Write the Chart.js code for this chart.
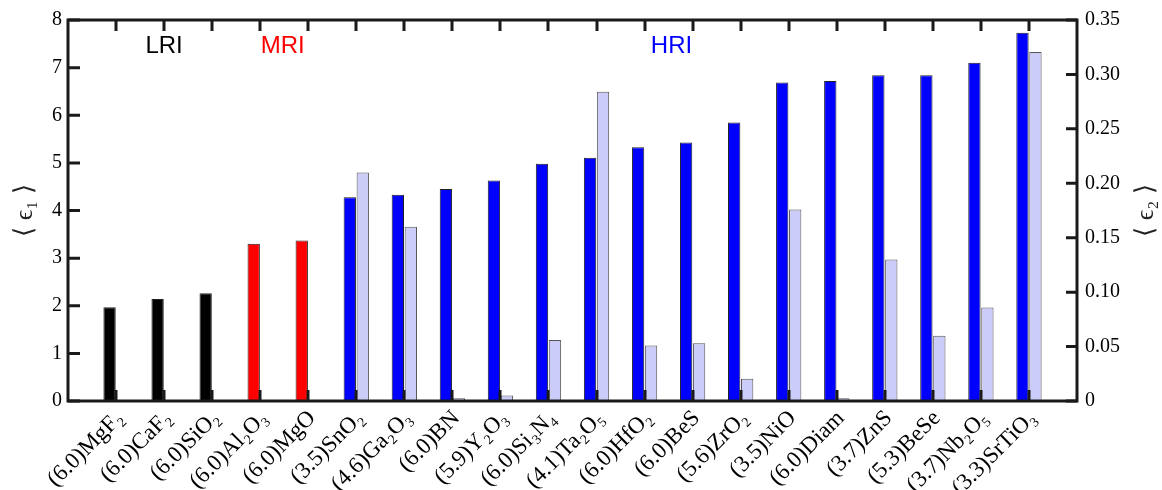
<!DOCTYPE html>
<html>
<head>
<title>Average dielectric function</title>
<script src="https://cdn.jsdelivr.net/npm/chart.js"></script>
<style>
  body { margin: 0; background: #fff; }
  #wrap { width: 1162px; height: 490px; }
</style>
</head>
<body>
<div id="wrap"><canvas id="chart"></canvas></div>
<script>
// (gap) material, as labelled on the x axis
const materials = ['(6.0)MgF₂', '(6.0)CaF₂', '(6.0)SiO₂', '(6.0)Al₂O₃', '(6.0)MgO',
  '(3.5)SnO₂', '(4.6)Ga₂O₃', '(6.0)BN', '(5.9)Y₂O₃', '(6.0)Si₃N₄', '(4.1)Ta₂O₅',
  '(6.0)HfO₂', '(6.0)BeS', '(5.6)ZrO₂', '(3.5)NiO', '(6.0)Diam', '(3.7)ZnS',
  '(5.3)BeSe', '(3.7)Nb₂O₅', '(3.3)SrTiO₃'];
const groups = ['LRI', 'LRI', 'LRI', 'MRI', 'MRI', 'HRI', 'HRI', 'HRI', 'HRI', 'HRI',
  'HRI', 'HRI', 'HRI', 'HRI', 'HRI', 'HRI', 'HRI', 'HRI', 'HRI', 'HRI'];
// <eps1> (left axis)
const eps1 = [1.97, 2.14, 2.26, 3.30, 3.37, 4.28, 4.33, 4.45, 4.63, 4.98, 5.11,
  5.33, 5.43, 5.85, 6.69, 6.72, 6.84, 6.84, 7.10, 7.73];
// <eps2> (right axis), none drawn for the low/medium index group
const eps2 = [null, null, null, null, null, 0.210, 0.160, 0.0025, 0.005, 0.056, 0.284,
  0.051, 0.053, 0.0205, 0.176, 0.0025, 0.130, 0.060, 0.086, 0.3205];
const leftTicks = ['0', '1', '2', '3', '4', '5', '6', '7', '8'];
const rightTicks = ['0', '0.05', '0.10', '0.15', '0.20', '0.25', '0.30', '0.35'];

const groupColor = { LRI: '#000000', MRI: '#ff0000', HRI: '#0000ff' };
const groupText = [
  { text: 'LRI', at: 2.0 },
  { text: 'MRI', at: 4.47 },
  { text: 'HRI', at: 12.56 }
];

const labels = ['', ...materials, ''];
const serif = 'Liberation Serif';

const framePlugin = {
  id: 'frame',
  afterDatasetsDraw(chart) {
    const { ctx, chartArea: a, scales } = chart;
    const x = scales.x, y1 = scales.y1, y2 = scales.y2;
    ctx.save();
    ctx.strokeStyle = '#1a1a1a';
    ctx.lineWidth = 3;
    ctx.beginPath();
    for (let i = 1; i <= materials.length; i++) {
      const px = Math.round(x.getPixelForValue(i));
      ctx.moveTo(px, a.bottom); ctx.lineTo(px, a.bottom - 11);
      ctx.moveTo(px, a.top); ctx.lineTo(px, a.top + 11);
    }
    leftTicks.forEach(t => {
      const py = y1.getPixelForValue(Number(t));
      ctx.moveTo(a.left, py); ctx.lineTo(a.left + 12, py);
    });
    rightTicks.forEach(t => {
      const py = y2.getPixelForValue(Number(t));
      ctx.moveTo(a.right, py); ctx.lineTo(a.right - 11, py);
    });
    ctx.stroke();
    ctx.strokeRect(a.left, a.top, a.right - a.left, a.bottom - a.top);

    // group names
    ctx.font = '24px "Liberation Sans"';
    ctx.textAlign = 'center';
    ctx.textBaseline = 'middle';
    groupText.forEach(g => {
      ctx.fillStyle = groupColor[g.text];
      ctx.fillText(g.text, x.getPixelForValue(g.at), y1.getPixelForValue(7.45));
    });

    // axis titles, both read bottom to top
    const midY = (a.top + a.bottom) / 2;
    ctx.fillStyle = '#222';
    ctx.font = '26px "' + serif + '"';
    [[25, '⟨ ϵ₁ ⟩'], [1146, '⟨ ϵ₂ ⟩']].forEach(([tx, txt]) => {
      ctx.save();
      ctx.translate(tx, midY);
      ctx.rotate(-Math.PI / 2);
      ctx.fillText(txt, 0, 0);
      ctx.restore();
    });
    ctx.restore();
  }
};

new Chart(document.getElementById('chart'), {
  type: 'bar',
  data: {
    labels: labels,
    datasets: [
      {
        label: 'eps1',
        data: [null, ...eps1, null],
        yAxisID: 'y1',
        backgroundColor: ['#000', ...groups.map(g => groupColor[g]), '#000'],
        borderColor: '#222',
        borderWidth: 1,
        categoryPercentage: 0.54,
        barPercentage: 0.95
      },
      {
        label: 'eps2',
        data: [null, ...eps2, null],
        yAxisID: 'y2',
        backgroundColor: '#ccccf8',
        borderColor: '#555',
        borderWidth: 1,
        categoryPercentage: 0.54,
        barPercentage: 0.95
      }
    ]
  },
  options: {
    responsive: true,
    maintainAspectRatio: false,
    animation: false,
    layout: { padding: { top: 20, left: 0, right: 0, bottom: 0 } },
    plugins: { legend: { display: false }, tooltip: { enabled: false } },
    scales: {
      x: {
        type: 'category',
        offset: false,
        grid: { display: false, drawTicks: false },
        border: { display: false },
        ticks: {
          autoSkip: false, minRotation: 45, maxRotation: 45, padding: 4,
          labelOffset: 4, color: '#000', font: { family: serif, size: 23 }
        },
        afterFit(s) { s.height = 89; }
      },
      y1: {
        position: 'left',
        min: 0, max: 8,
        grid: { display: false, drawTicks: false },
        border: { display: false },
        ticks: {
          stepSize: 1, padding: 6, color: '#000',
          font: { family: serif, size: 20 },
          callback: (v, i) => leftTicks[i]
        },
        afterFit(s) { s.width = 68; }
      },
      y2: {
        position: 'right',
        min: 0, max: 0.35,
        grid: { display: false, drawTicks: false },
        border: { display: false },
        ticks: {
          stepSize: 0.05, padding: 8, color: '#000',
          font: { family: serif, size: 20 },
          callback: (v, i) => rightTicks[i]
        },
        afterFit(s) { s.width = 85; }
      }
    }
  },
  plugins: [framePlugin]
});
</script>
</body>
</html>
